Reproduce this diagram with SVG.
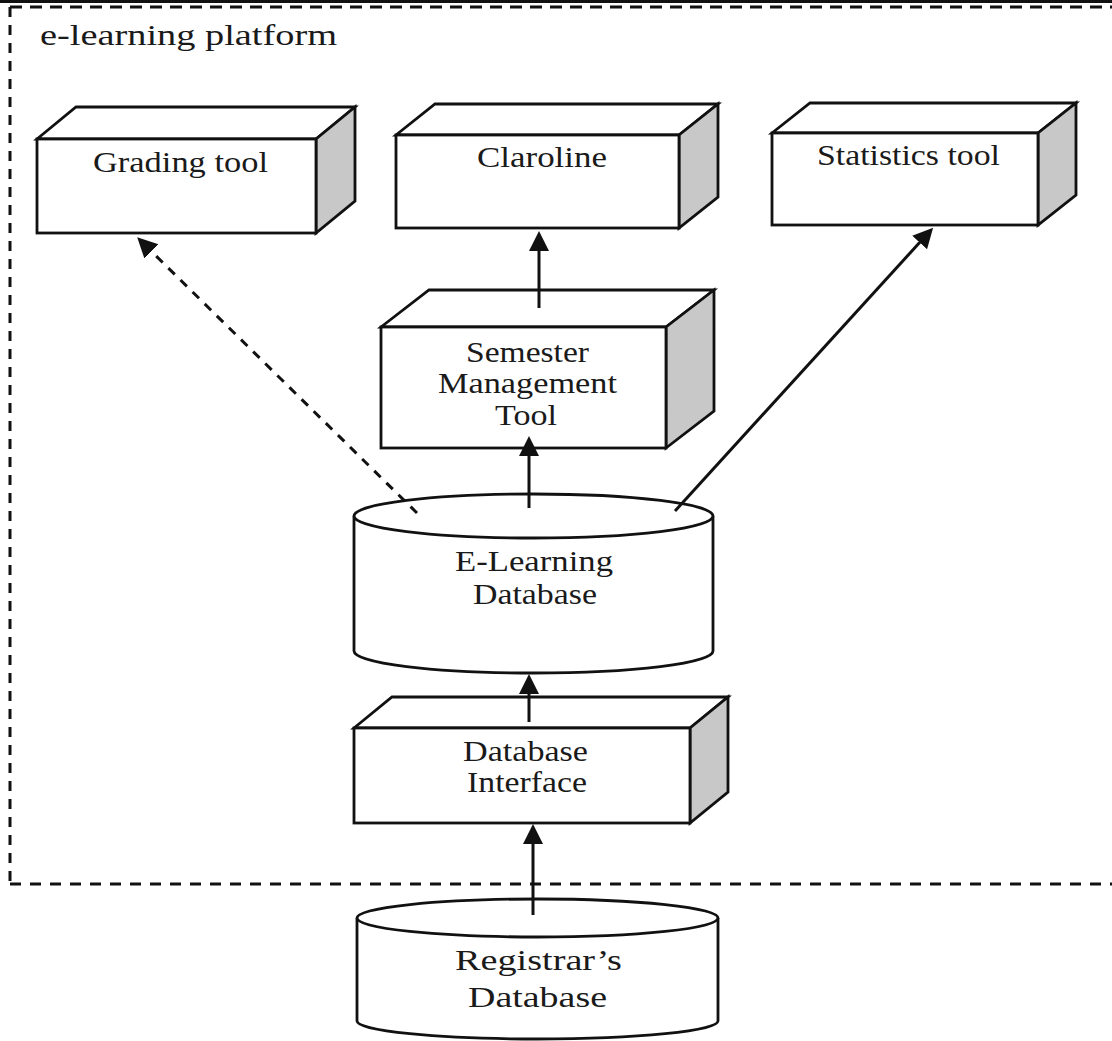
<svg xmlns="http://www.w3.org/2000/svg" width="1112" height="1041" viewBox="0 0 1112 1041">
<style>
.front{fill:#fff;stroke:#111;stroke-width:2.8;stroke-linejoin:miter}
.top{fill:#fff;stroke:#111;stroke-width:2.8;stroke-linejoin:miter}
.side{fill:#c8c8c8;stroke:#111;stroke-width:2.8;stroke-linejoin:miter}
.cyl{fill:#fff;stroke:#111;stroke-width:2.8}
.lbl{font-family:"Liberation Serif","Times New Roman",serif;font-size:30px;fill:#1a1a1a}
.border{fill:none;stroke:#111;stroke-width:3}
.conn{fill:none;stroke:#111;stroke-width:3}
</style>
<defs>
<marker id="ah" markerUnits="userSpaceOnUse" markerWidth="22" markerHeight="22" viewBox="0 0 22 22" refX="2" refY="11" orient="auto">
<path d="M0,1 L20,11 L0,21 z" fill="#111"/>
</marker>
</defs>
<rect x="0" y="0" width="1112" height="1041" fill="#fff"/>
<g id="platform-border">
<rect x="0" y="0" width="1112" height="3" fill="#111"/>
<line class="border" x1="10" y1="7" x2="1112" y2="7" stroke-dasharray="12 8"/>
<line class="border" x1="10" y1="7" x2="10" y2="884" stroke-dasharray="10 8"/>
<line class="border" x1="10" y1="884" x2="1112" y2="884" stroke-dasharray="11 9"/>
<text class="lbl" x="40" y="45" textLength="297" lengthAdjust="spacingAndGlyphs">e-learning platform</text>
</g>
<g id="grading-tool">
<polygon class="top" points="37,139 76,107 355,107 316,139"/>
<polygon class="side" points="316,139 355,107 355,201 316,233"/>
<rect class="front" x="37" y="139" width="279" height="94"/>
<text class="lbl" x="93" y="172" textLength="175" lengthAdjust="spacingAndGlyphs">Grading tool</text>
</g>
<g id="claroline">
<polygon class="top" points="396,135 435,104 718,104 679,135"/>
<polygon class="side" points="679,135 718,104 718,197 679,228"/>
<rect class="front" x="396" y="135" width="283" height="93"/>
<text class="lbl" x="477" y="167" textLength="130" lengthAdjust="spacingAndGlyphs">Claroline</text>
</g>
<g id="statistics-tool">
<polygon class="top" points="772,133 810,103 1076,103 1038,133"/>
<polygon class="side" points="1038,133 1076,103 1076,195 1038,225"/>
<rect class="front" x="772" y="133" width="266" height="92"/>
<text class="lbl" x="817" y="165" textLength="183" lengthAdjust="spacingAndGlyphs">Statistics tool</text>
</g>
<g id="semester-management-tool">
<polygon class="top" points="381,327 429,290 714,290 666,327"/>
<polygon class="side" points="666,327 714,290 714,411 666,448"/>
<rect class="front" x="381" y="327" width="285" height="121"/>
<text class="lbl" x="466" y="362" textLength="123" lengthAdjust="spacingAndGlyphs">Semester</text>
<text class="lbl" x="438" y="393" textLength="179" lengthAdjust="spacingAndGlyphs">Management</text>
<text class="lbl" x="495" y="425" textLength="62" lengthAdjust="spacingAndGlyphs">Tool</text>
</g>
<g id="elearning-database">
<path class="cyl" d="M354,516 L354,651 A179.5,22 0 0 0 713,651 L713,516"/>
<ellipse class="cyl" cx="533.5" cy="516" rx="179.5" ry="22"/>
<text class="lbl" x="455" y="571" textLength="158" lengthAdjust="spacingAndGlyphs">E-Learning</text>
<text class="lbl" x="473" y="604" textLength="124" lengthAdjust="spacingAndGlyphs">Database</text>
</g>
<g id="database-interface">
<polygon class="top" points="354,728 392,697 728,697 690,728"/>
<polygon class="side" points="690,728 728,697 728,792 690,823"/>
<rect class="front" x="354" y="728" width="336" height="95"/>
<text class="lbl" x="463" y="761" textLength="125" lengthAdjust="spacingAndGlyphs">Database</text>
<text class="lbl" x="467" y="792" textLength="120" lengthAdjust="spacingAndGlyphs">Interface</text>
</g>
<g id="registrars-database">
<path class="cyl" d="M357,918 L357,1021 A180.5,18 0 0 0 718,1021 L718,918"/>
<ellipse class="cyl" cx="537.5" cy="918" rx="180.5" ry="19"/>
<text class="lbl" x="455" y="970" textLength="167" lengthAdjust="spacingAndGlyphs">Registrar’s</text>
<text class="lbl" x="468" y="1007" textLength="139" lengthAdjust="spacingAndGlyphs">Database</text>
</g>
<g id="connectors">
<line class="conn" x1="417" y1="513" x2="150" y2="250" stroke-dasharray="9 8" stroke-width="3.2" marker-end="url(#ah)"/>
<line class="conn" x1="539" y1="308" x2="539" y2="249" stroke-width="4.5" marker-end="url(#ah)"/>
<line class="conn" x1="529" y1="508" x2="529" y2="454" marker-end="url(#ah)"/>
<line class="conn" x1="675" y1="511" x2="921" y2="241" marker-end="url(#ah)"/>
<line class="conn" x1="529" y1="722" x2="529" y2="692" marker-end="url(#ah)"/>
<line class="conn" x1="533" y1="915" x2="533" y2="842" stroke-width="3.5" marker-end="url(#ah)"/>
</g>
</svg>
